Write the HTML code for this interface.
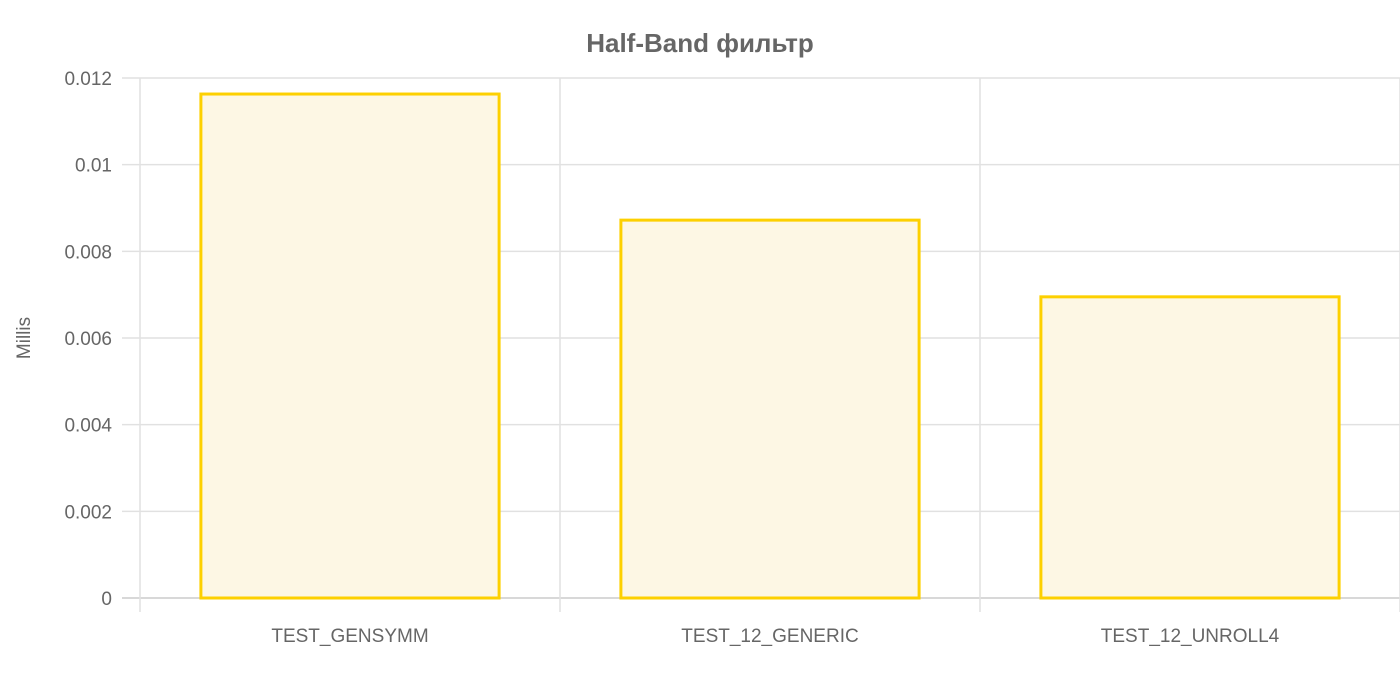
<!DOCTYPE html>
<html><head><meta charset="utf-8"><style>
body{margin:0;background:#fff;}
svg{display:block;font-family:"Liberation Sans","DejaVu Sans",sans-serif;}
</style></head><body>
<svg id="chart" width="1400" height="700">
<text x="700" y="52" text-anchor="middle" font-size="26" font-weight="bold" fill="#666">Half-Band фильтр</text>
<text transform="translate(30,338) rotate(-90)" text-anchor="middle" font-size="19" fill="#666">Millis</text>
<g id="grid"></g><g id="bars"></g><g id="labels"></g>
</svg>
<script>
const categories=["TEST_GENSYMM","TEST_12_GENERIC","TEST_12_UNROLL4"];
const values=[0.01163,0.00872,0.00695];
const yTicks=[0,0.002,0.004,0.006,0.008,0.01,0.012];
const yTickLabels=["0","0.002","0.004","0.006","0.008","0.01","0.012"];
const NS="http://www.w3.org/2000/svg";
const x0=140,x1=1400,yTop=78,yBot=598,yMax=0.012;
const y=v=>yBot-(v/yMax)*(yBot-yTop);
const band=(x1-x0)/categories.length;
const xc=i=>x0+band*(i+0.5);
function mk(tag,attrs,parent){const e=document.createElementNS(NS,tag);for(const k in attrs)e.setAttribute(k,attrs[k]);document.getElementById(parent).appendChild(e);return e;}
yTicks.forEach((t,i)=>{
 const l=mk('line',{x1:122,x2:x1,y1:y(t),y2:y(t),stroke:i===0?'#ccc':'#e1e1e1','stroke-width':1.5},'grid');
 
 
 const tx=mk('text',{x:112,y:y(t)+7,'text-anchor':'end','font-size':19,fill:'#666'},'labels');
 tx.textContent=yTickLabels[i];
 
 
});
for(let i=0;i<=categories.length;i++){
 const gx=x0+band*i;
 const l=mk('line',{x1:gx,x2:gx,y1:yTop,y2:612,stroke:'#e1e1e1','stroke-width':1.5},'grid');
 
 
}
const bw=band*0.71;
categories.forEach((c,i)=>{
 const r=mk('rect',{x:xc(i)-bw/2,y:y(values[i]),width:bw,height:yBot-y(values[i]),fill:'#fdf7e4',stroke:'#fdd000','stroke-width':3},'bars');
 
 
 const tx=mk('text',{x:xc(i),y:642,'text-anchor':'middle','font-size':19,fill:'#666'},'labels');
 tx.textContent=c;
 
 
});
</script>
</body></html>
